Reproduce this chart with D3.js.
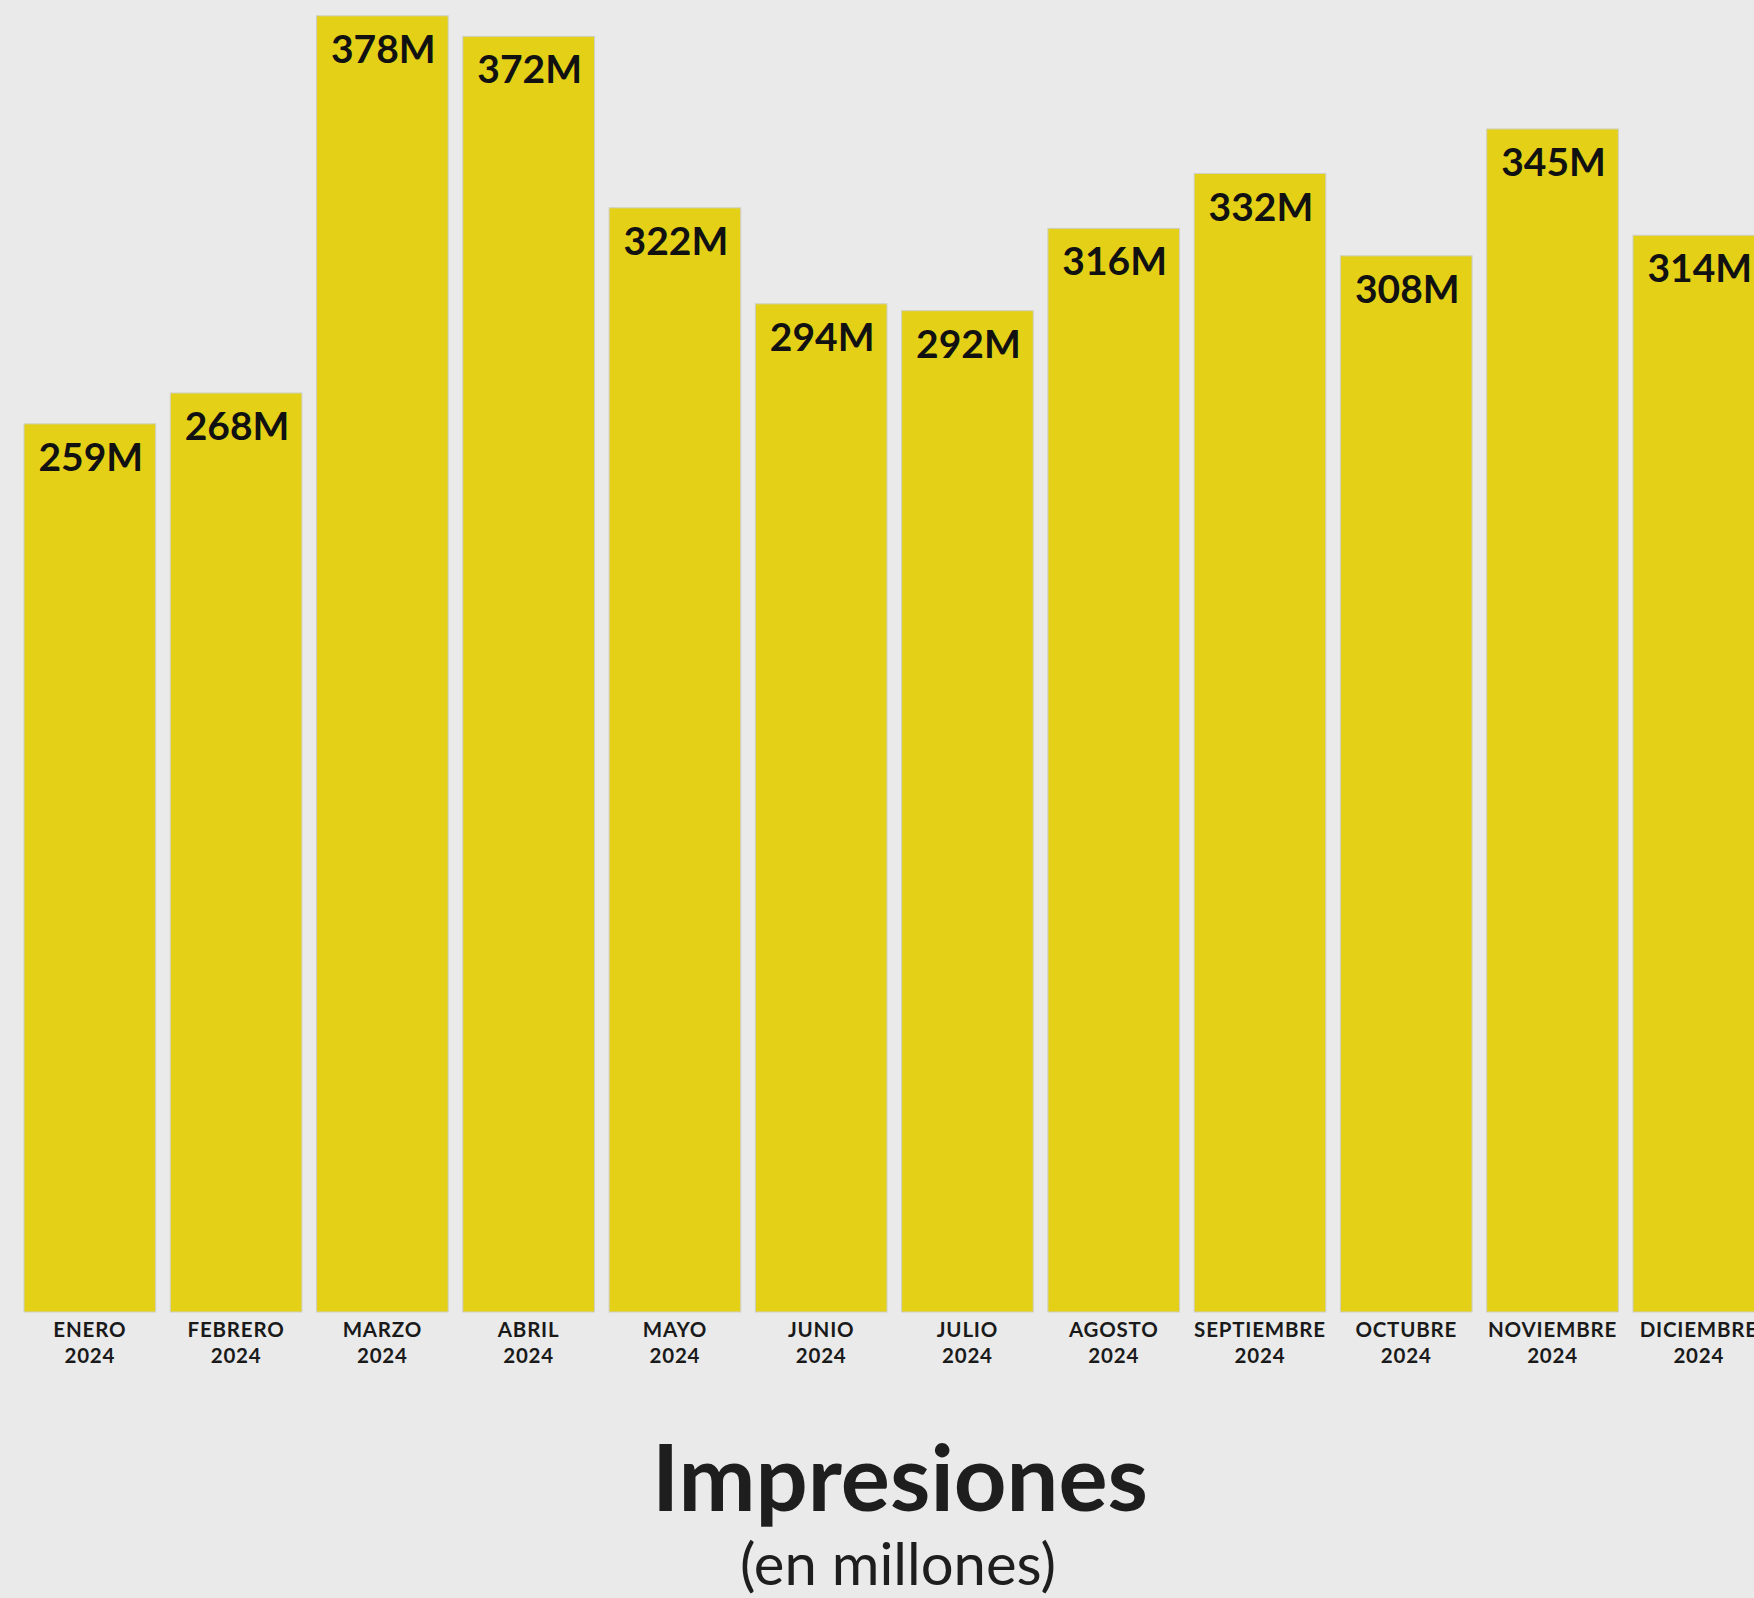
<!DOCTYPE html>
<html>
<head>
<meta charset="utf-8">
<script src="https://cdn.jsdelivr.net/npm/d3@7"></script>
<style>
  html, body { margin: 0; padding: 0; background: #eaeaea; }
  svg { display: block; font-family: Lato, "Open Sans", sans-serif; }
</style>
</head>
<body>
<svg class="chart" width="1754" height="1598"></svg>
<script>
// datos: impresiones mensuales (millones)
var months = ["ENERO", "FEBRERO", "MARZO", "ABRIL", "MAYO", "JUNIO", "JULIO",
              "AGOSTO", "SEPTIEMBRE", "OCTUBRE", "NOVIEMBRE", "DICIEMBRE"];
var years = ["2024", "2024", "2024", "2024", "2024", "2024", "2024",
             "2024", "2024", "2024", "2024", "2024"];
var impresiones = [259, 268, 378, 372, 322, 294, 292, 316, 332, 308, 345, 314];
var valueLabels = ["259M", "268M", "378M", "372M", "322M", "294M", "292M",
                   "316M", "332M", "308M", "345M", "314M"];

var svg = d3.select(".chart"),
    width = +svg.attr("width"),
    height = +svg.attr("height"),
    baseY = 1312;

var x = d3.scaleBand()
    .domain(months)
    .range([24, 24 + 146.27 * (months.length - 0.1)])
    .paddingInner(0.1)
    .paddingOuter(0)
    .align(0);

var y = d3.scaleLinear()
    .domain([0, 382.6])
    .range([baseY, 0]);

var data = months.map(function(m, i) {
  return {month: m, year: years[i], value: impresiones[i], label: valueLabels[i]};
});

var g = svg.append("g");

g.selectAll(".bar")
    .data(data)
  .enter().append("rect")
    .attr("class", "bar")
    .attr("x", function(d) { return x(d.month); })
    .attr("y", function(d) { return y(d.value); })
    .attr("width", x.bandwidth())
    .attr("height", function(d) { return baseY - y(d.value); })
    .attr("fill", "#e4d117")
    .attr("stroke", "#cfcfc4")
    .attr("stroke-width", 1);

g.selectAll(".val")
    .data(data)
  .enter().append("text")
    .attr("class", "val")
    .attr("x", function(d) { return x(d.month) + x.bandwidth() / 2 + 1; })
    .attr("y", function(d) { return y(d.value) + 47; })
    .attr("text-anchor", "middle")
    .style("font-size", "39px")
    .style("font-weight", "bold")
    .style("fill", "#111")
    .text(function(d) { return d.label; });

var lab = g.selectAll(".mlabel")
    .data(data)
  .enter().append("text")
    .attr("class", "mlabel")
    .attr("text-anchor", "middle")
    .style("font-size", "20.5px")
    .style("font-weight", "bold")
    .style("letter-spacing", "0.8px")
    .style("fill", "#1a1a1a");

lab.append("tspan")
    .attr("x", function(d) { return x(d.month) + x.bandwidth() / 2; })
    .attr("y", 1337)
    .text(function(d) { return d.month; });

lab.append("tspan")
    .attr("x", function(d) { return x(d.month) + x.bandwidth() / 2; })
    .attr("y", 1363)
    .text(function(d) { return d.year; });

// titulo
svg.append("text")
    .attr("x", 900)
    .attr("y", 1511)
    .attr("text-anchor", "middle")
    .style("font-size", "92px")
    .style("font-weight", "bold")
    .style("fill", "#1e1e1e")
    .text("Impresiones");

svg.append("text")
    .attr("x", 898)
    .attr("y", 1585)
    .attr("text-anchor", "middle")
    .style("font-size", "58px")
    .style("fill", "#1e1e1e")
    .text("(en millones)");
</script>
</body>
</html>
